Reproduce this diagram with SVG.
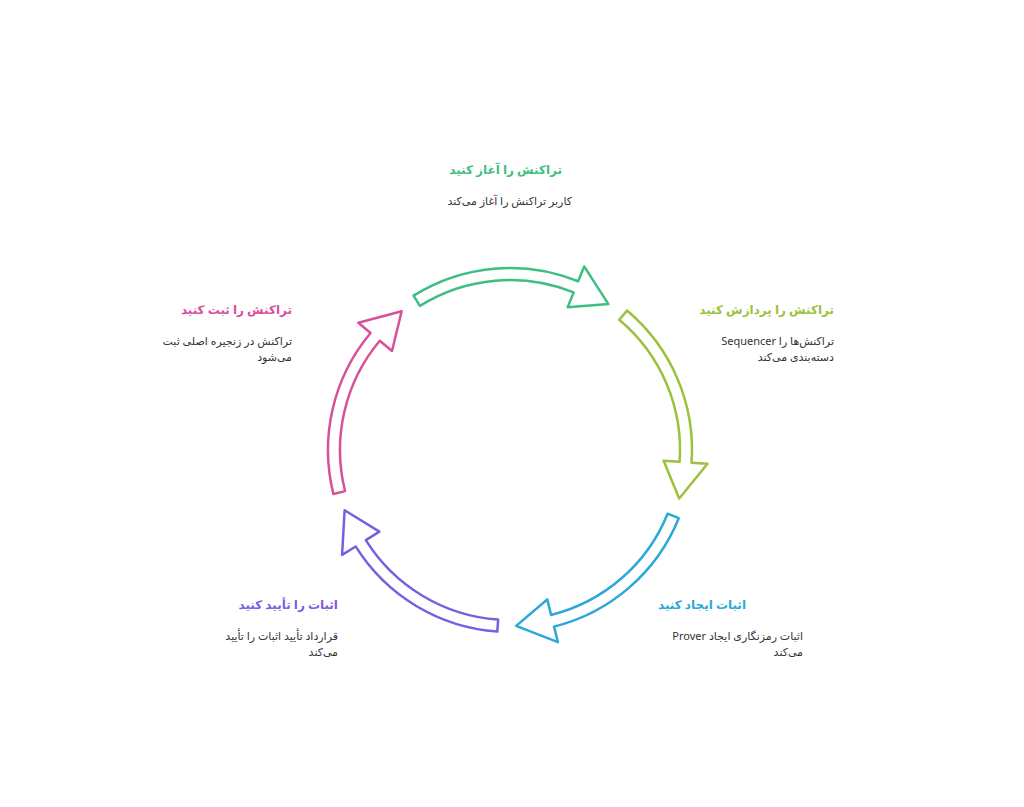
<svg xmlns="http://www.w3.org/2000/svg" width="1024" height="807" viewBox="0 0 1024 807">
<style>
.t{font-family:"Noto Sans","DejaVu Sans",sans-serif;font-size:12px;font-weight:bold}
.d{font-family:"Noto Sans","DejaVu Sans",sans-serif;font-size:11px;fill:#333}
.a{fill:#fff;stroke-width:2.5;stroke-linejoin:round}
</style>
<defs>
<path id="arr" d="M182,0 A182,182 0 0 1 106.98,147.24 L116.38,160.18 L71.58,160.78 L90.52,124.59 L99.93,137.53 A170,170 0 0 0 170,0 Z"/>
</defs>
<rect width="1024" height="807" fill="#fff"/>
<g id="connectors">
<use href="#arr" class="a" stroke="#3dbf82" transform="translate(510,450) rotate(-122)"/>
<use href="#arr" class="a" stroke="#9cc13b" transform="translate(510,450) rotate(-50)"/>
<use href="#arr" class="a" stroke="#2aa9d8" transform="translate(510,450) rotate(22)"/>
<use href="#arr" class="a" stroke="#7b5ee0" transform="translate(510,450) rotate(94)"/>
<use href="#arr" class="a" stroke="#d9509a" transform="translate(510,450) rotate(166)"/>
</g>
<g id="n1" direction="rtl">
<text class="t" x="562" y="174" fill="#3dbf82">تراکنش را آغاز کنید</text>
<text class="d" x="572" y="205">کاربر تراکنش را آغاز می‌کند</text>
</g>
<g id="n2" direction="rtl">
<text class="t" x="834" y="314" fill="#9cc13b">تراکنش را پردازش کنید</text>
<text class="d" x="834" y="345">تراکنش‌ها را Sequencer</text>
<text class="d" x="834" y="361">دسته‌بندی می‌کند</text>
</g>
<g id="n3" direction="rtl">
<text class="t" x="746" y="609" fill="#2aa9d8">اثبات ایجاد کنید</text>
<text class="d" x="803" y="640">اثبات رمزنگاری ایجاد Prover</text>
<text class="d" x="803" y="656">می‌کند</text>
</g>
<g id="n4" direction="rtl">
<text class="t" x="338" y="609" fill="#7b5ee0">اثبات را تأیید کنید</text>
<text class="d" x="338" y="640">قرارداد تأیید اثبات را تأیید</text>
<text class="d" x="338" y="656">می‌کند</text>
</g>
<g id="n5" direction="rtl">
<text class="t" x="292" y="314" fill="#d9509a">تراکنش را ثبت کنید</text>
<text class="d" x="292" y="345">تراکنش در زنجیره اصلی ثبت</text>
<text class="d" x="292" y="361">می‌شود</text>
</g>
</svg>
